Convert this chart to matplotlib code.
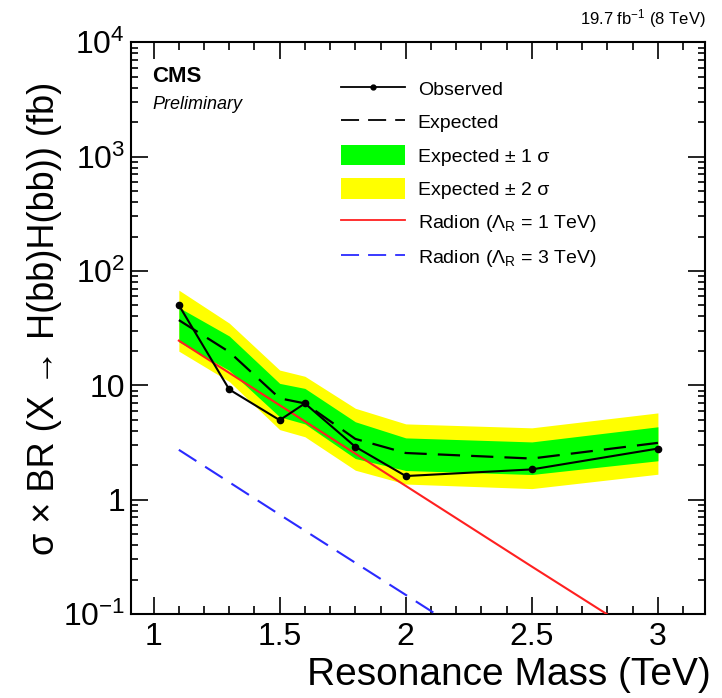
import numpy as np
import matplotlib
matplotlib.use("Agg")
import matplotlib.pyplot as plt
from matplotlib.lines import Line2D
from matplotlib.patches import Patch
from matplotlib.ticker import FixedLocator, MultipleLocator, LogLocator, NullFormatter

plt.rcParams["font.family"] = ["Liberation Sans", "DejaVu Sans"]
plt.rcParams["mathtext.fontset"] = "custom"
plt.rcParams["mathtext.rm"] = "Liberation Sans"
plt.rcParams["mathtext.it"] = "Liberation Sans:italic"
plt.rcParams["mathtext.bf"] = "Liberation Sans:bold"

# Resonance masses (TeV) and 95% CL limits (fb)
mass = [1.1, 1.3, 1.5, 1.6, 1.8, 2.0, 2.5, 3.0]
observed = [50.3, 9.2, 4.96, 6.95, 2.90, 1.61, 1.84, 2.80]
expected = [37.2, 19.6, 7.7, 6.95, 3.4, 2.56, 2.29, 3.14]
exp_m1 = [24.0, 13.5, 5.3, 4.6, 2.29, 1.80, 1.66, 2.19]
exp_p1 = [48.0, 27.0, 10.4, 9.4, 4.8, 3.47, 3.2, 4.34]
exp_m2 = [19.9, 10.8, 4.1, 3.55, 1.81, 1.37, 1.25, 1.67]
exp_p2 = [68.0, 35.0, 13.6, 12.0, 6.3, 4.6, 4.25, 5.74]

# Radion production cross sections (fb)
radion_mass = [1.1, 1.5, 2.0, 2.5, 3.0]
radion_1tev = [24.6, 6.7, 1.32, 0.26, 0.052]
radion_3tev = [2.73, 0.74, 0.147, 0.029, 0.0058]

fig = plt.figure(figsize=(7.22, 6.98), dpi=100)
ax = fig.add_axes([0.181, 0.1203, 0.7959, 0.8191])

ax.fill_between(mass, exp_m2, exp_p2, color="#ffff00", lw=0, zorder=1)
ax.fill_between(mass, exp_m1, exp_p1, color="#00ff00", lw=0, zorder=2)
ax.plot(mass, expected, color="black", lw=1.6, dashes=(10, 5), zorder=4)
ax.plot(radion_mass, radion_1tev, color="#ff2020", lw=1.5, zorder=3)
ax.plot(radion_mass, radion_3tev, color="#2a2aff", lw=1.5, dashes=(10, 5), zorder=3)
ax.plot(mass, observed, color="black", lw=1.5, marker="o", ms=4.5, zorder=5)

ax.set_yscale("log")
ax.set_xlim(0.909, 3.188)
ax.set_ylim(0.1, 1e4)

ax.xaxis.set_major_locator(FixedLocator([1, 1.5, 2, 2.5, 3]))
ax.xaxis.set_minor_locator(MultipleLocator(0.1))
ax.set_xticklabels(["1", "1.5", "2", "2.5", "3"])
ax.yaxis.set_major_locator(LogLocator(base=10, numticks=10))
ax.yaxis.set_minor_locator(LogLocator(base=10, subs=np.arange(2, 10), numticks=20))
ax.yaxis.set_minor_formatter(NullFormatter())
ax.set_yticks([0.1, 1, 10, 100, 1000, 10000])
ax.set_yticklabels(["10$^{-1}$", "1", "10", "10$^{2}$", "10$^{3}$", "10$^{4}$"])

ax.tick_params(axis="both", which="both", direction="in", top=True, right=True,
               width=1.2, labelsize=23)
ax.tick_params(axis="x", which="major", length=12, pad=6)
ax.tick_params(axis="x", which="minor", length=6)
ax.tick_params(axis="y", which="major", length=12, pad=4)
ax.tick_params(axis="y", which="minor", length=5)
for s in ax.spines.values():
    s.set_linewidth(1.5)

ax.set_xlabel("Resonance Mass (TeV)", fontsize=28, labelpad=2)
ax.xaxis.set_label_coords(1.01, -0.075)
ax.xaxis.label.set_ha("right")
fig.text(45 / 722, 1 - 318 / 698, r"σ × BR (X → H(bb)H(bb)) (fb)", fontsize=26,
         rotation=90, ha="center", va="center")

ax.text(0.038, 0.94, "CMS", transform=ax.transAxes, fontsize=16,
        fontweight="bold", va="center", ha="left")
ax.text(0.038, 0.892, "Preliminary", transform=ax.transAxes, fontsize=13,
        style="italic", va="center", ha="left")
fig.text(0.9769, 0.957, r"19.7 fb$^{\mathregular{-1}}$ (8 TeV)", fontsize=12,
         ha="right", va="bottom")

handles = [
    Line2D([], [], color="black", lw=1.3, marker="o", ms=3.5),
    Line2D([], [], color="black", lw=1.3, dashes=(10, 5)),
    Patch(facecolor="#00ff00", edgecolor="none"),
    Patch(facecolor="#ffff00", edgecolor="none"),
    Line2D([], [], color="#ff2020", lw=1.3),
    Line2D([], [], color="#2a2aff", lw=1.3, dashes=(10, 5)),
]
labels = [
    "Observed",
    "Expected",
    "Expected ± 1 σ",
    "Expected ± 2 σ",
    r"Radion (Λ$_{\mathregular{R}}$ = 1 TeV)",
    r"Radion (Λ$_{\mathregular{R}}$ = 3 TeV)",
]
ax.legend(handles, labels, loc="upper left", bbox_to_anchor=(0.366, 0.937),
          frameon=False, fontsize=14, handlelength=3.3, handleheight=1.25,
          labelspacing=0.64, handletextpad=0.65, borderaxespad=0, borderpad=0)

fig.savefig("out.png", dpi=100)
